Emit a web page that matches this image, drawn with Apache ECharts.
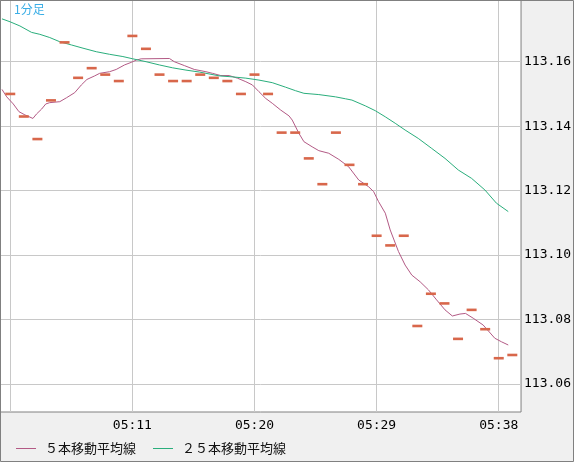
<!DOCTYPE html>
<html>
<head>
<meta charset="utf-8">
<script src="https://cdn.jsdelivr.net/npm/echarts@6/dist/echarts.min.js"></script>
<style>
  html, body { margin: 0; padding: 0; background: #f0f0f0; }
  #chart { width: 574px; height: 462px; }
</style>
</head>
<body>
<div id="chart"></div>
<script>
// 1分足 (one dash per minute, 05:02 .. 05:39)
let timeLabels = ['05:02', '05:03', '05:04', '05:05', '05:06', '05:07', '05:08', '05:09', '05:10', '05:11',
    '05:12', '05:13', '05:14', '05:15', '05:16', '05:17', '05:18', '05:19', '05:20', '05:21',
    '05:22', '05:23', '05:24', '05:25', '05:26', '05:27', '05:28', '05:29', '05:30', '05:31',
    '05:32', '05:33', '05:34', '05:35', '05:36', '05:37', '05:38', '05:39']

let closes = [113.150, 113.143, 113.136, 113.148, 113.166, 113.155, 113.158, 113.156, 113.154, 113.168,
    113.164, 113.156, 113.154, 113.154, 113.156, 113.155, 113.154, 113.150, 113.156, 113.150,
    113.138, 113.138, 113.130, 113.122, 113.138, 113.128, 113.122, 113.106, 113.103, 113.106,
    113.078, 113.088, 113.085, 113.074, 113.083, 113.077, 113.068, 113.069]

// moving averages, [minute index, price]
let ma5Points = [[-0.61, 113.1514], [-0.26, 113.1491], [0.22, 113.1469], [0.64, 113.1445], [1.08, 113.1435],
    [1.67, 113.1424], [1.94, 113.1438], [2.31, 113.1453], [2.62, 113.1469], [2.91, 113.1473],
    [3.65, 113.1476], [4.14, 113.1488], [4.75, 113.1504], [5.24, 113.1528], [5.65, 113.1545],
    [6.22, 113.1556], [6.59, 113.1564], [7.32, 113.1569], [7.81, 113.1576], [8.42, 113.1590],
    [8.91, 113.1598], [9.28, 113.1605], [9.65, 113.1609], [11.73, 113.1610], [12.09, 113.1600],
    [12.83, 113.1588], [13.56, 113.1576], [14.42, 113.1569], [14.90, 113.1564], [15.52, 113.1557],
    [16.13, 113.1557], [16.74, 113.1549], [17.36, 113.1538], [17.84, 113.1528], [18.33, 113.1507],
    [18.83, 113.1486], [19.31, 113.1471], [19.93, 113.1450], [20.54, 113.1432], [20.78, 113.1419],
    [21.27, 113.1378], [21.64, 113.1352], [22.25, 113.1336], [22.74, 113.1324], [23.47, 113.1316],
    [24.21, 113.1297], [24.94, 113.1274], [25.68, 113.1233], [26.41, 113.1212], [26.78, 113.1197],
    [27.14, 113.1166], [27.64, 113.1130], [28.00, 113.1078], [28.61, 113.1011], [29.10, 113.0969],
    [29.59, 113.0938], [30.21, 113.0917], [30.82, 113.0892], [31.42, 113.0861], [32.04, 113.0830],
    [32.58, 113.0811], [33.14, 113.0817], [33.55, 113.0819], [34.12, 113.0804], [34.85, 113.0783],
    [35.71, 113.0742], [36.20, 113.0731], [36.70, 113.0721]]

let ma25Points = [[-0.61, 113.1733], [-0.02, 113.1724], [0.71, 113.1711], [1.57, 113.1691], [2.18, 113.1685],
    [2.91, 113.1675], [3.65, 113.1662], [4.51, 113.1652], [5.36, 113.1642], [6.34, 113.1631],
    [7.32, 113.1623], [8.30, 113.1616], [9.03, 113.1609], [10.01, 113.1600], [10.99, 113.1590],
    [11.97, 113.1581], [12.95, 113.1574], [13.93, 113.1568], [15.40, 113.1556], [16.37, 113.1553],
    [17.36, 113.1549], [18.33, 113.1543], [19.31, 113.1535], [20.29, 113.1521], [21.03, 113.1510],
    [21.64, 113.1502], [22.74, 113.1498], [23.97, 113.1491], [24.70, 113.1485], [25.18, 113.1481],
    [26.17, 113.1463], [26.90, 113.1448], [27.64, 113.1429], [28.37, 113.1409], [29.10, 113.1388],
    [30.07, 113.1362], [31.06, 113.1331], [32.04, 113.1300], [33.02, 113.1264], [34.00, 113.1238],
    [34.98, 113.1202], [35.83, 113.1161], [36.70, 113.1135]]

let priceTicks = [113.06, 113.08, 113.10, 113.12, 113.14, 113.16]
let timeGridIdx = [0, 9, 18, 27, 36]
let timeLabelIdx = [9, 18, 27, 36]

let seriesNames = ['５本移動平均線', '２５本移動平均線']

let dashData = closes.map(function (v, i) { return [i, v] })

let monoFont = '"DejaVu Sans Mono", monospace'

let option = {
    animation: false,
    backgroundColor: '#f0f0f0',
    grid: {
        left: 0,
        top: 0,
        width: 523,
        height: 412,
        show: true,
        backgroundColor: '#ffffff',
        borderColor: '#808080',
        borderWidth: 1
    },
    xAxis: {
        type: 'value',
        min: -0.756,
        max: 37.643,
        axisLine: { show: false },
        axisTick: { show: false, customValues: timeGridIdx },
        splitLine: { show: true, lineStyle: { color: '#c8c8c8', width: 1 } },
        axisLabel: {
            customValues: timeLabelIdx,
            margin: 7,
            color: '#000',
            fontFamily: monoFont,
            fontSize: 13,
            formatter: function (v) { return timeLabels[Math.round(v)] }
        }
    },
    yAxis: {
        type: 'value',
        position: 'right',
        min: 113.05131,
        max: 113.17915,
        axisLine: { show: false },
        axisTick: { show: false, customValues: priceTicks },
        splitLine: { show: true, lineStyle: { color: '#c8c8c8', width: 1 } },
        axisLabel: {
            customValues: priceTicks,
            margin: 3,
            color: '#000',
            fontFamily: monoFont,
            fontSize: 13,
            formatter: function (v) { return v.toFixed(2) }
        }
    },
    legend: {
        left: 16,
        top: 442,
        padding: 0,
        icon: 'rect',
        itemWidth: 20,
        itemHeight: 1,
        itemGap: 17,
        data: seriesNames,
        textStyle: {
            color: '#111',
            fontFamily: '"Noto Sans CJK JP", sans-serif',
            fontSize: 13,
            padding: [0, 0, 0, 4]
        }
    },
    graphic: [{
        type: 'rect',
        shape: { x: 0.5, y: 0.5, width: 573, height: 461 },
        style: { fill: 'none', stroke: '#808080', lineWidth: 1 },
        z: 100
    }, {
        type: 'text',
        left: 14,
        top: 3,
        style: {
            text: '1分足',
            fill: '#3aaee6',
            font: '12px "Noto Sans CJK JP", sans-serif'
        },
        z: 100
    }],
    series: [{
        name: seriesNames[0],
        type: 'line',
        symbol: 'none',
        data: ma5Points,
        lineStyle: { color: '#b35a85', width: 1 },
        itemStyle: { color: '#b35a85' },
        z: 3
    }, {
        name: seriesNames[1],
        type: 'line',
        symbol: 'none',
        data: ma25Points,
        lineStyle: { color: '#2aae7c', width: 1 },
        itemStyle: { color: '#2aae7c' },
        z: 3
    }, {
        name: '1分足',
        type: 'scatter',
        symbol: 'rect',
        symbolSize: [10, 2.6],
        data: dashData,
        itemStyle: { color: '#d8674b', opacity: 1 },
        z: 5
    }]
};

let chart = echarts.init(document.getElementById('chart'));
chart.setOption(option);
</script>
</body>
</html>
